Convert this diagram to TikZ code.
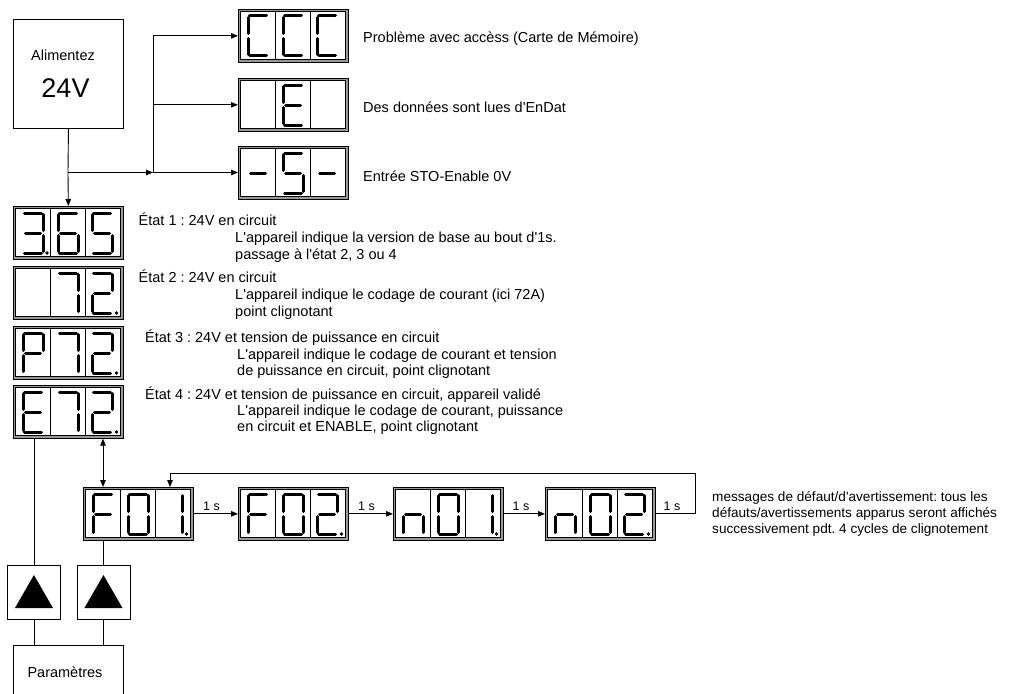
\documentclass[tikz,border=0pt]{standalone}
\usepackage{fontspec}
\setmainfont{Liberation Sans}
\newfontfamily\arialnt{Liberation Sans}
\usetikzlibrary{arrows.meta,calc}
\tikzset{
  conn/.style={line width=0.9pt, black},
  arr/.style={conn, -{Triangle[length=7pt,width=5.5pt]}},
  darr/.style={conn, {Triangle[length=7pt,width=5.5pt]}-{Triangle[length=7pt,width=5.5pt]}},
  dispbox/.style={draw=black, fill=black!40, line width=0.7pt, minimum width=110pt, minimum height=53pt, inner sep=0pt, anchor=north west},
  seg/.style={line width=3pt, line cap=round},
  box/.style={draw=black, line width=0.9pt, inner sep=0pt, anchor=north west},
  txt/.style={font=\arialnt\fontsize{14.5}{17}\selectfont, inner sep=0pt, anchor=base west},
  rtxt/.style={font=\arialnt\fontsize{13.6}{16}\selectfont, inner sep=0pt, anchor=base west},
  lbl/.style={font=\arialnt\fontsize{12.5}{15}\selectfont, inner sep=0pt, anchor=base},
}
\frenchspacing
\def\sga{(\L+1.5,\T)--(\L+18.5,\T)}
\def\sgb{(\L+20,\T+1.5)--(\L+20,\M-2.5)}
\def\sgc{(\L+20,\M+2.5)--(\L+20,\B-1.5)}
\def\sgd{(\L+1.5,\B)--(\L+18.5,\B)}
\def\sge{(\L,\M+2.5)--(\L,\B-1.5)}
\def\sgf{(\L,\T+1.5)--(\L,\M-2.5)}
\def\sgg{(\L+2.5,\M)--(\L+17.5,\M)}
\def\sgx{(\L,\T)}
\newcommand\dseg{\expandafter\let\expandafter\cursg\csname sg\s\endcsname\draw[seg] \cursg;}
\newcommand\dotat[1]{\fill (\X+#1,\Y+47) circle (1.9);}
\newcommand\dsp[7]{%
  \node[dispbox] (#1) at (#2,#3) {};
  \draw[line width=0.7pt, fill=white] (#2+2.5,#3+2.5) rectangle (#2+107.5,#3+50.5);
  \draw[line width=0.7pt] (#2+37.5,#3+2.5) -- (#2+37.5,#3+50.5) (#2+72.5,#3+2.5) -- (#2+72.5,#3+50.5);
  \def\X{#2}\def\Y{#3}%
  \def\T{#3+7}\def\M{#3+27}\def\B{#3+47}%
  \def\L{#2+10}\foreach \s in {#4}{\dseg}%
  \def\L{#2+45}\foreach \s in {#5}{\dseg}%
  \def\L{#2+79}\foreach \s in {#6}{\dseg}%
  #7%
}
\begin{document}
\begin{tikzpicture}[x=1pt,y=-1pt]
\useasboundingbox (0,0) rectangle (1027,693);
\clip (0,0) rectangle (1027,693);

% power box
\node[box, minimum width=110pt, minimum height=109pt] (alim) at (13,19) {};
\node[txt, anchor=base] (alimt) at (63,60) {Alimentez};
\node[font=\arialnt\fontsize{27}{32}\selectfont, inner sep=0pt, anchor=base] (v24) at (65.5,97) {24V};

% top displays
\dsp{ccc}{238}{9}{a,d,e,f}{a,d,e,f}{a,d,e,f}{}
\dsp{ee}{238}{78}{x}{a,d,e,f,g}{x}{}
\dsp{sts}{238}{146}{g}{a,f,g,c,d}{g}{}

% left column displays
\dsp{d365}{13}{206}{a,b,g,c,d}{a,f,g,e,c,d}{a,f,g,c,d}{\dotat{34}}
\dsp{d72}{13}{266}{x}{a,b,c}{a,b,g,e,d}{\dotat{103.5}}
\dsp{p72}{13}{326}{a,b,f,g,e}{a,b,c}{a,b,g,e,d}{\dotat{103.5}}
\dsp{e72}{13}{385}{a,d,e,f,g}{a,b,c}{a,b,g,e,d}{\dotat{103.5}}

% bottom row
\dsp{f01}{83}{487}{a,f,g,e}{a,b,c,d,e,f}{b,c}{\dotat{103.5}}
\dsp{f02}{238}{487}{a,f,g,e}{a,b,c,d,e,f}{a,b,g,e,d}{\dotat{103.5}}
\dsp{n01}{393}{487}{e,g,c}{a,b,c,d,e,f}{b,c}{\dotat{103.5}}
\dsp{n02}{545}{487}{e,g,c}{a,b,c,d,e,f}{a,b,g,e,d}{\dotat{103.5}}

% top connectors
\coordinate (j1) at (68,172.5);
\coordinate (j2) at (153,172.5);
\draw[conn] (alim.south) -- (j1);
\draw[arr] (j1) -- (d365.north);
\draw[arr] (j1) -- (j2);
\draw[arr] (j2) -- (j2 -| sts.west);
\draw[conn] (j2) -- (j2 |- ccc.west);
\draw[arr] (j2 |- ccc.west) -- (ccc.west);
\draw[arr] (j2 |- ee.west) -- (ee.west);

% top texts
\node[txt] (t1) at (363,42) {Problème avec accèss (Carte de Mémoire)};
\node[txt] (t2) at (363,112) {Des données sont lues d'EnDat};
\node[txt] (t3) at (363,181) {Entrée STO-Enable 0V};

% state texts
\node[txt] (s1a) at (138.5,225) {État 1 : 24V en circuit};
\node[txt] (s1b) at (235,242) {L'appareil indique la version de base au bout d'1s.};
\node[txt] (s1c) at (235,259) {passage à l'état 2, 3 ou 4};
\node[txt] (s2a) at (138.5,282) {État 2 : 24V en circuit};
\node[txt] (s2b) at (235,299) {L'appareil indique le codage de courant (ici 72A)};
\node[txt] (s2c) at (235,316) {point clignotant};
\node[txt] (s3a) at (145,342) {État 3 : 24V et tension de puissance en circuit};
\node[txt] (s3b) at (237,359) {L'appareil indique le codage de courant et tension};
\node[txt] (s3c) at (237,375.5) {de puissance en circuit, point clignotant};
\node[txt] (s4a) at (145,399) {État 4 : 24V et tension de puissance en circuit, appareil validé};
\node[txt] (s4b) at (237,415) {L'appareil indique le codage de courant, puissance};
\node[txt] (s4c) at (237,431) {en circuit et ENABLE, point clignotant};

% right message
\node[rtxt] (m1) at (712,501) {messages de défaut/d'avertissement: tous les};
\node[rtxt] (m2) at (712,517) {défauts/avertissements apparus seront affichés};
\node[rtxt] (m3) at (712,533) {successivement pdt. 4 cycles de clignotement};

% bottom row connectors
\draw[arr] (f01.east) -- (f02.west);
\draw[arr] (f02.east) -- (n01.west);
\draw[arr] (n01.east) -- (n02.west);
\node[lbl] (l1) at (211.5,510) {1 s};
\node[lbl] (l2) at (366.5,510) {1 s};
\node[lbl] (l3) at (521,510) {1 s};
\node[lbl] (l4) at (672,510) {1 s};
\coordinate (lpr) at (695,473);
\coordinate (lpl) at (170,473);
\draw[arr] (n02.east) -| (lpr) -- (lpl) -- (lpl |- f01.north);

% vertical double arrow
\coordinate (va) at (103,460);
\draw[darr] (va |- e72.south) -- (va |- f01.north);

% buttons
\node[box, minimum width=53pt, minimum height=54pt] (btl) at (7,565) {};
\node[box, minimum width=53pt, minimum height=54pt] (btr) at (76.5,565) {};
\fill ($(btl.north)+(0,10)$) -- ($(btl.north)+(-19,43)$) -- ($(btl.north)+(19,43)$) -- cycle;
\fill ($(btr.north)+(0,10)$) -- ($(btr.north)+(-19,43)$) -- ($(btr.north)+(19,43)$) -- cycle;
\draw[conn] (btl.north |- e72.south) -- (btl.north);
\draw[conn] (btr.north |- f01.south) -- (btr.north);

% parameters box
\node[box, minimum width=110pt, minimum height=80pt] (param) at (13,645) {};
\node[txt, anchor=base] (pt) at (65,677) {Paramètres};
\draw[conn] (btl.south) -- (btl.south |- param.north);
\draw[conn] (btr.south) -- (btr.south |- param.north);
\end{tikzpicture}
\end{document}
